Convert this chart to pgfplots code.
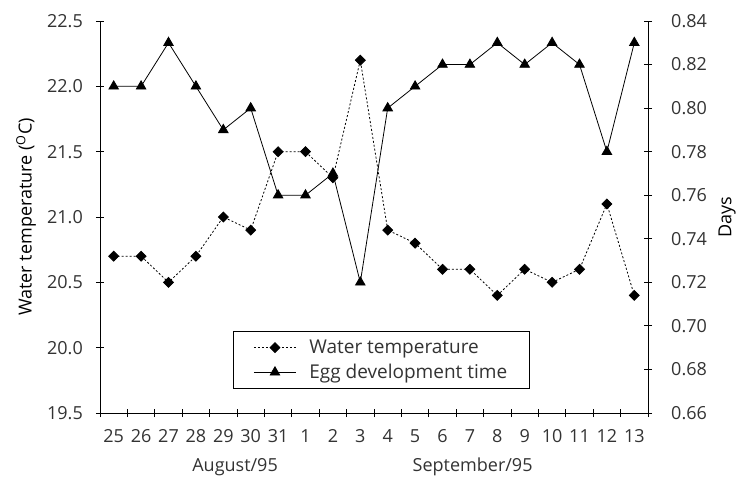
\documentclass[border=0pt]{standalone}
\usepackage{pgfplots}
\pgfplotsset{compat=1.18}
\usepackage{pgfplotstable}
\usepackage{fontspec}
\setmainfont{Open Sans}
\definecolor{txt}{HTML}{333333}
\newcommand{\ff}{\fontsize{18bp}{21bp}\selectfont}
\newcommand{\fl}{\fontsize{19bp}{22bp}\selectfont}

\pgfplotstableread{
x temp egg
0 20.7 0.81
1 20.7 0.81
2 20.5 0.83
3 20.7 0.81
4 21.0 0.79
5 20.9 0.80
6 21.5 0.76
7 21.5 0.76
8 21.3 0.77
9 22.2 0.72
10 20.9 0.80
11 20.8 0.81
12 20.6 0.82
13 20.6 0.82
14 20.4 0.83
15 20.6 0.82
16 20.5 0.83
17 20.6 0.82
18 21.1 0.78
19 20.4 0.83
}\data

\pgfplotsset{
  common/.style={
    scale only axis, width=548bp, height=392bp,
    xmin=-0.5, xmax=19.5,
    tick align=center, major tick length=8bp,
    axis line style={black, line width=0.9bp},
    tick style={black, line width=0.9bp},
    /pgf/number format/assume math mode=true,
    tick label style={font=\ff, text=txt},
    label style={font=\ff, text=txt},
  },
  tempstyle/.style={black, line width=0.8bp, dash pattern=on 2bp off 2bp, mark=square*, mark size=3.5bp, mark options={solid, rotate=45, fill=black}},
  eggstyle/.style={black, line width=0.8bp, solid, mark=triangle*, mark size=5.5bp, mark options={solid, fill=black}},
}

\begin{document}
\ff
\begin{tikzpicture}
\path[use as bounding box] (-100bp,-67bp) rectangle (637bp,413bp);
\begin{axis}[common,
  ymin=19.5, ymax=22.5,
  axis y line*=left, axis x line*=bottom,
  xtick={-0.5,0.5,...,19.5},
  x tick label as interval,
  xticklabels={25,26,27,28,29,30,31,1,2,3,4,5,6,7,8,9,10,11,12,13},
  xticklabel style={yshift=-6bp},
  ytick={19.5,20.0,20.5,21.0,21.5,22.0,22.5},
  yticklabel style={xshift=-7bp, /pgf/number format/.cd, fixed, fixed zerofill, precision=1},
  every axis y label/.style={at={(axis description cs:0,0.5)}, xshift=-74bp, rotate=90, anchor=center},
  ylabel={Water temperature (\textsuperscript{O}C)},
  clip=false,
]
\addplot[tempstyle] table[x=x, y=temp] {\data};
\node[text=txt, font=\ff] at (axis cs:4.43,19.5) [yshift=-54bp] {August/95};
\node[text=txt, font=\ff] at (axis cs:13.1,19.5) [yshift=-54bp] {September/95};
\end{axis}
\begin{axis}[common,
  ymin=0.66, ymax=0.84,
  axis y line*=right, axis x line=none,
  ytick={0.66,0.68,0.70,0.72,0.74,0.76,0.78,0.80,0.82,0.84},
  yticklabel style={xshift=13bp, /pgf/number format/.cd, fixed, fixed zerofill, precision=2},
  every axis y label/.style={at={(axis description cs:1,0.5)}, xshift=79bp, rotate=90, anchor=center},
  ylabel={Days},
  legend style={at={(rel axis cs:0.243,0.209)}, anchor=north west, draw=black, line width=0.8bp,
    fill=white, font=\fl, text=txt, inner xsep=20bp, inner ysep=6bp, row sep=4bp,
    /tikz/every odd column/.append style={column sep=11bp}},
  legend cell align=left,
  legend image code/.code={\draw[mark repeat=2,mark phase=2,#1] plot coordinates {(0bp,0bp) (21bp,0bp) (42bp,0bp)};},
]
\addlegendimage{tempstyle}
\addlegendentry{Water temperature}
\addplot[eggstyle] table[x=x, y=egg] {\data};
\addlegendentry{Egg development time}
\end{axis}
\end{tikzpicture}
\end{document}
